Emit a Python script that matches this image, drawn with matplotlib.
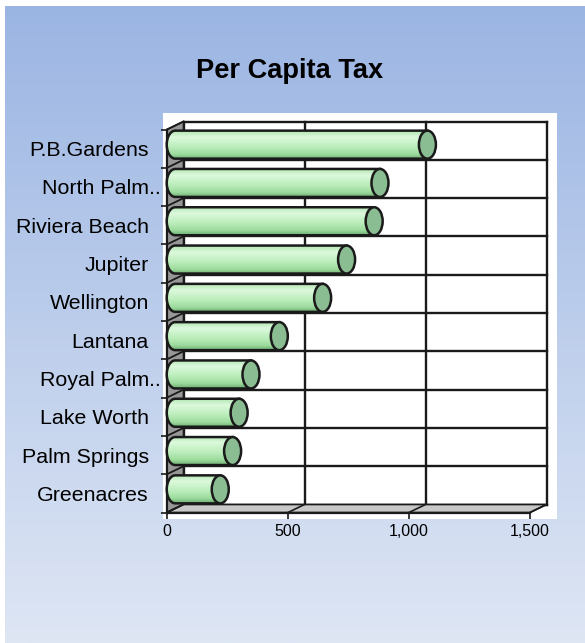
import numpy as np
import matplotlib.pyplot as plt
from matplotlib.patches import Polygon, Ellipse
from matplotlib.colors import LinearSegmentedColormap

plt.rcParams['font.family'] = ['Liberation Sans', 'DejaVu Sans']

# data, top to bottom as in the chart
towns = ['P.B.Gardens', 'North Palm..', 'Riviera Beach', 'Jupiter', 'Wellington',
         'Lantana', 'Royal Palm..', 'Lake Worth', 'Palm Springs', 'Greenacres']
tax = [1042, 846, 822, 708, 609, 430, 313, 264, 237, 186]
xticks = [0, 500, 1000, 1500]

W, H = 585, 643
fig = plt.figure(figsize=(W / 100, H / 100), dpi=100, facecolor='white')

# gradient background
bg = fig.add_axes([5 / W, 0, 1 - 5 / W, 1 - 6 / H])
grad = np.linspace(0, 1, 256)[:, None]
bg.imshow(grad, aspect='auto', extent=[0, 1, 0, 1],
          cmap=LinearSegmentedColormap.from_list('bg', ['#9BB5E3', '#DEE6F4']))
bg.axis('off')

fig.text(290 / W, 1 - 71 / H, 'Per Capita Tax', ha='center', va='center',
         fontsize=19.6, fontweight='bold')

# plot area (pixel box) and front axis positions
L, R, T, B = 163, 557, 113, 519
x0px, x1px = 167, 530
yb, yt = 512.5, 129.5
ax = fig.add_axes([L / W, 1 - B / H, (R - L) / W, (B - T) / H])
ax.set_facecolor('white')

n = len(towns)
xmax = xticks[-1]
sx = (x1px - x0px) / xmax
sy = (yb - yt) / n
DX = 16.5 / sx   # depth offset
DY = 8 / sy
dark = '#1a1a1a'

# back wall
for v in xticks:
    ax.plot([v + DX, v + DX], [DY, n + DY], color=dark, lw=1.7, zorder=1)
for k in range(n + 1):
    ax.plot([DX, xmax + DX], [k + DY, k + DY], color=dark, lw=1.7, zorder=1)

# left wall
ax.add_patch(Polygon([(0, 0), (DX, DY), (DX, n + DY), (0, n)], closed=True,
                     fc='#979797', ec=dark, lw=1.2, zorder=2))
for k in range(n + 1):
    ax.plot([0, DX], [k, k + DY], color=dark, lw=1.3, zorder=2)

# floor
ax.add_patch(Polygon([(0, 0), (xmax, 0), (xmax + DX, DY), (DX, DY)], closed=True,
                     fc='#c8c8c8', ec=dark, lw=1.2, zorder=2))
for v in xticks:
    ax.plot([v, v + DX], [0, DY], color=dark, lw=1.2, zorder=2)

# cylinders
body_cmap = LinearSegmentedColormap.from_list(
    'body', [(0, '#b4e6b4'), (0.22, '#dcf9dc'), (0.55, '#bdeebd'),
             (0.82, '#9edc9e'), (1, '#6fae73')])
rx = 8.5 / sx
ry = 14 / sy
t = np.linspace(np.pi / 2, 3 * np.pi / 2, 40)
for i, v in enumerate(tax):
    pos = n - 1 - i
    yc = pos + 0.5 + DY / 2
    xs = DX / 2
    xe = v + DX / 2
    pts = [(xe, yc + ry)] + list(zip(xs + rx * np.cos(t), yc + ry * np.sin(t))) + [(xe, yc - ry)]
    body = Polygon(pts, closed=True, fc='none', ec=dark, lw=1.8, zorder=3.2)
    ax.add_patch(body)
    im = ax.imshow(grad, extent=[xs - rx, xe, yc - ry, yc + ry], cmap=body_cmap,
                   aspect='auto', zorder=3)
    im.set_clip_path(body)
    ax.add_patch(Ellipse((xe, yc), 2 * rx, 2 * ry, fc='#8abd92', ec=dark, lw=1.8, zorder=4))

ax.set_xlim((L - x0px) / sx, (R - x0px) / sx)
ax.set_ylim(-(B - yb) / sy, n + (yt - T) / sy)

# axes
for s in ['top', 'right']:
    ax.spines[s].set_visible(False)
ax.spines['left'].set_position(('data', 0))
ax.spines['bottom'].set_position(('data', 0))
ax.spines['left'].set_bounds(0, n)
ax.spines['bottom'].set_bounds(0, xmax)
for s in ['left', 'bottom']:
    ax.spines[s].set_color(dark)
    ax.spines[s].set_linewidth(1.6)

ax.set_xticks(xticks)
ax.set_xticklabels([f'{v:,}' for v in xticks])
ax.tick_params(axis='x', length=4.3, width=1.2, color=dark, pad=4, labelsize=11.5)

stems = [s[:-2] if s.endswith('..') else s for s in towns]
ax.set_yticks(range(n + 1))
ax.set_yticklabels([])
ax.set_yticks([n - 1 - i + 0.5 for i in range(n)], minor=True)
ax.set_yticklabels(stems, minor=True)
ax.tick_params(axis='y', which='major', length=4.3, width=1.2, color=dark)
ax.tick_params(axis='y', which='minor', length=0, pad=13, labelsize=15.4)
for i, s in enumerate(towns):
    if s.endswith('..'):
        ax.annotate('..', xy=(0, n - 1 - i + 0.5), xytext=(-13, 0),
                    textcoords='offset points', ha='left', va='center_baseline',
                    fontsize=15.4, annotation_clip=False)

fig.savefig('out.png', dpi=100)
